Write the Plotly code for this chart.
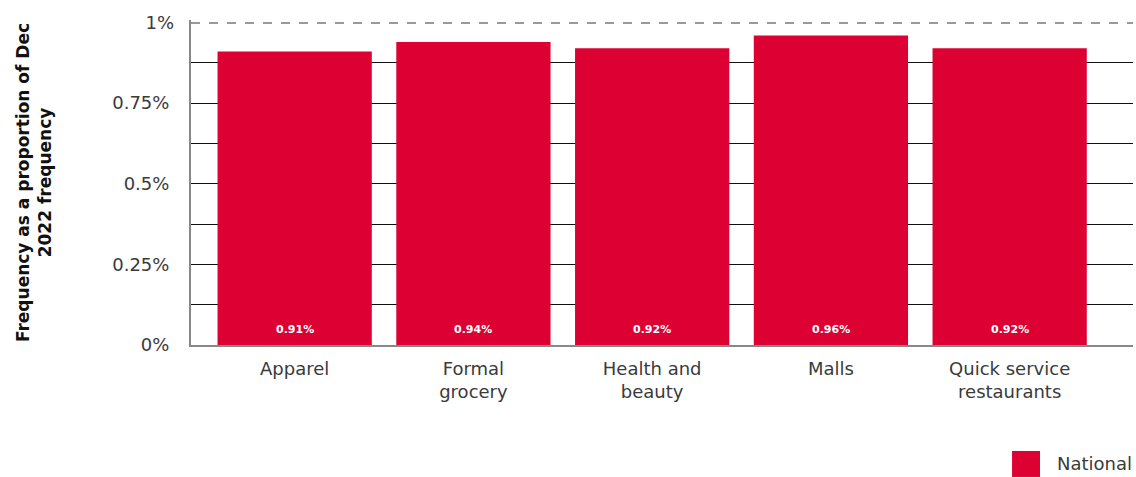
import plotly.graph_objects as go

categories = ["Apparel", "Formal<br>grocery", "Health and<br>beauty", "Malls", "Quick service<br>restaurants"]
national = [0.91, 0.94, 0.92, 0.96, 0.92]
tick_vals = [0, 0.25, 0.5, 0.75]
tick_text = ["0%", "0.25%", "0.5%", "0.75%"]
minor_vals = [0.125, 0.375, 0.625, 0.875]

RED = "#DD0033"
FONT = "DejaVu Sans"
TEXT = "#3a3a3a"

fig = go.Figure()
fig.add_trace(go.Bar(
    x=categories, y=national, marker_color=RED, marker_line_width=0,
    showlegend=False, hoverinfo="skip",
))
# value labels sitting at the foot of each bar
for cat, val in zip(categories, national):
    fig.add_annotation(
        x=cat, y=0, text=f"<b>{val:.2f}%</b>", showarrow=False,
        yanchor="bottom", yshift=7,
        font=dict(family=FONT, size=11, color="white"),
    )
# secondary axis only to carry the dashed 1% reference line and its label
fig.add_trace(go.Scatter(x=[categories[0]], y=[None], yaxis="y2", showlegend=False, hoverinfo="skip"))

yrange = [0, 1.008]
fig.update_layout(
    width=1136, height=477,
    margin=dict(l=191, r=3, t=20, b=132),
    plot_bgcolor="white", paper_bgcolor="white",
    bargap=0.137,
    font=dict(family=FONT, color=TEXT, size=18),
    xaxis=dict(
        range=[-0.58, 4.69], showline=True, linecolor="#888888", linewidth=2,
        showgrid=False, ticks="", ticklabelstandoff=6,
        tickfont=dict(size=18, color=TEXT),
    ),
    yaxis=dict(
        range=yrange, tickvals=tick_vals, ticktext=tick_text,
        showline=True, linecolor="#888888", linewidth=2,
        showgrid=True, gridcolor="#111111", gridwidth=1.3,
        zeroline=False, ticks="", ticklabelstandoff=16,
        tickfont=dict(size=18, color=TEXT),
        minor=dict(tickvals=minor_vals, showgrid=True, gridcolor="#111111", gridwidth=1.3),
        title=dict(
            text="Frequency as a proportion of Dec<br>2022 frequency",
            font=dict(size=17, color="#111111", weight="bold"), standoff=56,
        ),
    ),
    yaxis2=dict(
        overlaying="y", side="left", range=yrange, tickvals=[1], ticktext=["1%"],
        showgrid=True, gridcolor="#999999", griddash="dash", gridwidth=2,
        zeroline=False, showline=False, ticks="", ticklabelstandoff=16,
        tickfont=dict(size=18, color=TEXT),
    ),
)

# legend swatch and label
fig.add_shape(type="rect", xref="paper", yref="paper",
              x0=0.8716, x1=0.9013, y0=-0.406, y1=-0.326,
              fillcolor=RED, line_width=0)
fig.add_annotation(xref="paper", yref="paper", x=0.917, y=-0.366,
                   text="National", showarrow=False, xanchor="left", yanchor="middle",
                   font=dict(size=18, color=TEXT))

fig.write_html("out.html")
